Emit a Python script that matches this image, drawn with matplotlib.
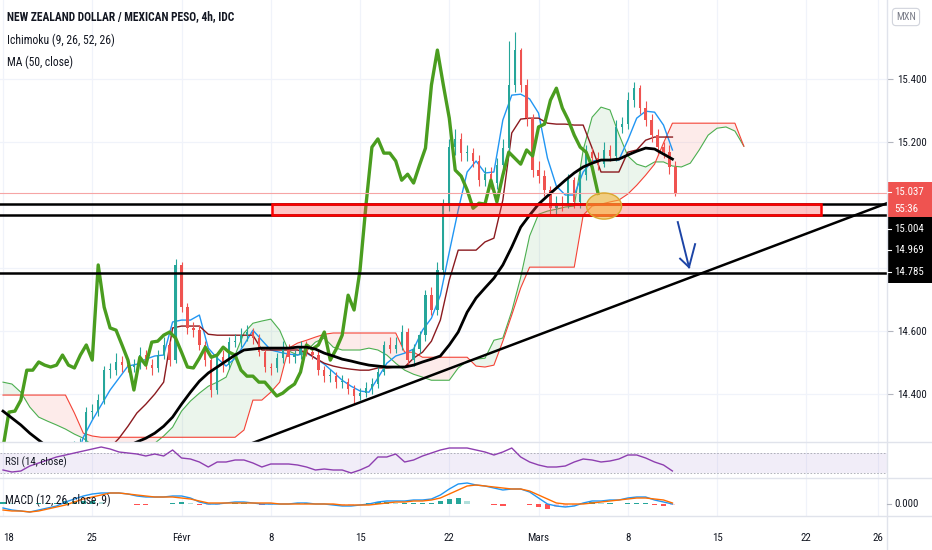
import numpy as np
import matplotlib
matplotlib.use("Agg")
import matplotlib.pyplot as plt
from matplotlib import font_manager
from matplotlib.patches import Rectangle, Ellipse


def first_font(names):
    for name in names:
        try:
            font_manager.findfont(font_manager.FontProperties(family=name),
                                  fallback_to_default=False)
            return name
        except ValueError:
            pass
    return "DejaVu Sans"


FONT = first_font(["Liberation Sans Narrow", "Roboto Condensed", "DejaVu Sans Condensed",
                   "Liberation Sans"])
plt.rcParams["font.family"] = [FONT, "DejaVu Sans"]

# x axis unit = trading days since Mon 18 Jan (weekends skipped)
# candles every 8h (3 per trading day)
closes = [
    14.10, 14.06, 14.08, 14.04, 14.07, 14.05, 14.09, 14.12, 14.10, 14.14,
    14.17, 14.20, 14.22, 14.23, 14.343, 14.346, 14.381, 14.476, 14.476, 14.502,
    14.492, 14.486, 14.492, 14.524, 14.492, 14.483, 14.524, 14.556, 14.508, 14.810,
    14.676, 14.610, 14.603, 14.556, 14.508, 14.413, 14.517, 14.492, 14.565, 14.568,
    14.587, 14.597, 14.578, 14.533, 14.486, 14.483, 14.514, 14.549, 14.517, 14.524,
    14.549, 14.533, 14.524, 14.476, 14.457, 14.457, 14.438, 14.438, 14.416, 14.394,
    14.403, 14.419, 14.432, 14.470, 14.556, 14.543, 14.556, 14.597, 14.508, 14.543,
    14.587, 14.714, 14.667, 14.794, 15.000, 15.184, 15.210, 15.165, 15.165, 15.140,
    15.079, 15.098, 15.070, 15.127, 15.181, 15.381, 15.492, 15.381, 15.276, 15.111,
    15.092, 15.048, 14.990, 15.006, 15.003, 15.079, 15.010, 15.095, 15.168, 15.149,
    15.130, 15.175, 15.156, 15.248, 15.257, 15.333, 15.371, 15.308, 15.270, 15.222,
    15.184, 15.168, 15.121, 15.037,
]
highs = [
    14.14, 14.12, 14.10, 14.09, 14.09, 14.10, 14.11, 14.14, 14.13, 14.16,
    14.19, 14.22, 14.25, 14.26, 14.36, 14.37, 14.40, 14.49, 14.50, 14.53,
    14.52, 14.51, 14.51, 14.55, 14.54, 14.51, 14.54, 14.58, 14.57, 14.83,
    14.82, 14.69, 14.63, 14.62, 14.57, 14.52, 14.53, 14.54, 14.58, 14.59,
    14.61, 14.62, 14.61, 14.59, 14.55, 14.50, 14.53, 14.57, 14.56, 14.54,
    14.57, 14.57, 14.55, 14.54, 14.49, 14.48, 14.47, 14.46, 14.45, 14.43,
    14.42, 14.44, 14.45, 14.49, 14.57, 14.58, 14.58, 14.62, 14.61, 14.56,
    14.60, 14.73, 14.74, 14.82, 15.02, 15.21, 15.24, 15.23, 15.19, 15.18,
    15.16, 15.12, 15.12, 15.15, 15.21, 15.52, 15.55, 15.50, 15.40, 15.29,
    15.14, 15.11, 15.06, 15.03, 15.03, 15.10, 15.09, 15.12, 15.19, 15.18,
    15.17, 15.20, 15.19, 15.27, 15.28, 15.36, 15.39, 15.38, 15.33, 15.29,
    15.24, 15.20, 15.19, 15.14,
]
lows = [
    14.08, 14.04, 14.04, 14.02, 14.03, 14.03, 14.04, 14.08, 14.08, 14.09,
    14.12, 14.15, 14.18, 14.20, 14.22, 14.32, 14.33, 14.37, 14.45, 14.46,
    14.47, 14.47, 14.47, 14.48, 14.48, 14.46, 14.47, 14.51, 14.49, 14.50,
    14.66, 14.59, 14.58, 14.54, 14.49, 14.39, 14.40, 14.47, 14.48, 14.55,
    14.55, 14.57, 14.56, 14.52, 14.47, 14.46, 14.47, 14.50, 14.50, 14.50,
    14.51, 14.52, 14.51, 14.46, 14.44, 14.44, 14.42, 14.42, 14.40, 14.37,
    14.38, 14.39, 14.40, 14.42, 14.46, 14.53, 14.53, 14.54, 14.49, 14.49,
    14.53, 14.57, 14.65, 14.65, 14.78, 14.98, 15.16, 15.14, 15.14, 15.12,
    15.06, 15.06, 15.05, 15.05, 15.11, 15.17, 15.36, 15.36, 15.25, 15.09,
    15.07, 15.03, 14.97, 14.97, 14.98, 14.99, 14.99, 14.99, 15.08, 15.13,
    15.11, 15.12, 15.14, 15.14, 15.23, 15.24, 15.31, 15.29, 15.25, 15.20,
    15.16, 15.15, 15.10, 15.03,
]
first_open = 14.12
chikou_shift = 13  # 26 bars of 4h

# indicator lines sampled every half trading day
tenkan = [
    14.12, 14.10, 14.08, 14.07, 14.07, 14.08, 14.10, 14.13, 14.17, 14.263,
    14.317, 14.365, 14.413, 14.451, 14.489, 14.495, 14.511, 14.521, 14.524, 14.629,
    14.635, 14.635, 14.651, 14.546, 14.514, 14.489, 14.514, 14.556, 14.603, 14.571,
    14.540, 14.533, 14.527, 14.524, 14.530, 14.514, 14.495, 14.470, 14.444, 14.425,
    14.410, 14.406, 14.451, 14.498, 14.521, 14.530, 14.543, 14.603, 14.641, 14.714,
    14.851, 14.984, 15.105, 15.140, 15.102, 15.105, 15.270, 15.349, 15.352, 15.337,
    15.292, 15.149, 15.060, 15.032, 15.032, 15.105, 15.140, 15.143, 15.143, 15.143,
    15.206, 15.276, 15.298, 15.295, 15.254, 15.175,
]
kijun = [
    14.10, 14.10, 14.10, 14.08, 14.08, 14.08, 14.08, 14.10, 14.12, 14.14,
    14.17, 14.20, 14.23, 14.260, 14.298, 14.340, 14.368, 14.400, 14.438, 14.610,
    14.616, 14.616, 14.616, 14.590, 14.587, 14.587, 14.587, 14.587, 14.587, 14.540,
    14.540, 14.540, 14.540, 14.540, 14.533, 14.514, 14.498, 14.489, 14.483, 14.479,
    14.476, 14.476, 14.483, 14.483, 14.486, 14.486, 14.514, 14.533, 14.568, 14.635,
    14.762, 14.857, 14.857, 14.857, 14.883, 14.895, 15.016, 15.229, 15.273, 15.276,
    15.276, 15.260, 15.257, 15.257, 15.254, 15.254, 15.181, 15.105, 15.105, 15.105,
    15.168, 15.175, 15.206, 15.216, 15.216, 15.216,
]
senkou_a = [
    14.438, 14.432, 14.406, 14.359, 14.327, 14.314, 14.302, 14.289, 14.273, 14.260,
    14.238, 14.225, 14.216, 14.219, 14.222, 14.229, 14.235, 14.244, 14.267, 14.295,
    14.346, 14.378, 14.403, 14.425, 14.438, 14.454, 14.524, 14.594, 14.625, 14.632,
    14.638, 14.603, 14.537, 14.524, 14.537, 14.565, 14.578, 14.549, 14.540, 14.540,
    14.540, 14.546, 14.540, 14.524, 14.498, 14.476, 14.463, 14.454, 14.444, 14.444,
    14.444, 14.483, 14.505, 14.511, 14.514, 14.571, 14.578, 14.663, 14.771, 14.902,
    14.971, 14.981, 14.987, 14.994, 14.997, 15.175, 15.279, 15.311, 15.302, 15.225,
    15.156, 15.130, 15.121, 15.137, 15.137, 15.124, 15.121, 15.133, 15.175, 15.222,
    15.244, 15.248, 15.235, 15.187,
]
senkou_b = [
    14.397, 14.397, 14.397, 14.397, 14.397, 14.397, 14.397, 14.397, 14.340, 14.276,
    14.267, 14.263, 14.263, 14.263, 14.263, 14.263, 14.263, 14.263, 14.263, 14.263,
    14.263, 14.263, 14.263, 14.263, 14.263, 14.263, 14.263, 14.286, 14.381, 14.381,
    14.406, 14.438, 14.546, 14.562, 14.571, 14.581, 14.590, 14.594, 14.594, 14.594,
    14.594, 14.594, 14.594, 14.594, 14.594, 14.533, 14.533, 14.517, 14.517, 14.517,
    14.517, 14.517, 14.517, 14.489, 14.486, 14.492, 14.568, 14.651, 14.737, 14.803,
    14.803, 14.803, 14.803, 14.803, 14.803, 14.968, 14.997, 15.003, 15.010, 15.016,
    15.035, 15.063, 15.095, 15.130, 15.197, 15.260, 15.260, 15.260, 15.260, 15.260,
    15.260, 15.260, 15.260, 15.187,
]
ma50 = [
    14.346, 14.324, 14.302, 14.276, 14.254, 14.232, 14.216, 14.197, 14.184, 14.181,
    14.184, 14.190, 14.203, 14.219, 14.235, 14.248, 14.260, 14.276, 14.298, 14.327,
    14.368, 14.406, 14.441, 14.467, 14.486, 14.505, 14.524, 14.540, 14.543, 14.546,
    14.546, 14.546, 14.546, 14.549, 14.549, 14.543, 14.530, 14.521, 14.511, 14.505,
    14.498, 14.492, 14.489, 14.486, 14.486, 14.486, 14.492, 14.502, 14.511, 14.521,
    14.556, 14.597, 14.660, 14.705, 14.737, 14.768, 14.810, 14.867, 14.930, 14.968,
    15.003, 15.029, 15.054, 15.079, 15.102, 15.121, 15.133, 15.143, 15.143, 15.146,
    15.159, 15.171, 15.181, 15.178, 15.162, 15.146,
]
rsi = [
    36, 32, 34, 44, 50, 56, 62, 66, 70, 74,
    78, 82, 78, 72, 70, 68, 64, 68, 64, 76,
    60, 58, 52, 42, 52, 52, 56, 56, 50, 42,
    48, 48, 48, 46, 42, 36, 38, 36, 36, 30,
    36, 44, 62, 62, 68, 52, 56, 64, 70, 76,
    80, 80, 80, 76, 72, 66, 72, 80, 62, 52,
    46, 42, 42, 44, 52, 58, 56, 52, 54, 58,
    66, 66, 60, 52, 46, 34,
]
macd = [
    -0.008, -0.012, -0.014, -0.016, -0.012, -0.008, -0.004, 0.004, 0.010, 0.016,
    0.020, 0.022, 0.022, 0.022, 0.020, 0.016, 0.014, 0.014, 0.014, 0.016,
    0.016, 0.012, 0.004, 0.000, 0.000, 0.002, 0.004, 0.004, 0.002, 0.000,
    0.000, 0.000, 0.000, 0.002, 0.002, 0.000, 0.000, -0.002, -0.004, -0.004,
    -0.002, 0.000, 0.004, 0.006, 0.006, 0.006, 0.008, 0.008, 0.010, 0.018,
    0.030, 0.040, 0.042, 0.038, 0.036, 0.032, 0.028, 0.030, 0.030, 0.024,
    0.012, 0.000, -0.004, -0.006, -0.004, 0.002, 0.006, 0.006, 0.008, 0.008,
    0.012, 0.014, 0.014, 0.008, 0.004, 0.000,
]
signal = [
    -0.012, -0.014, -0.014, -0.016, -0.014, -0.010, -0.006, -0.002, 0.004, 0.010,
    0.014, 0.018, 0.022, 0.022, 0.020, 0.018, 0.016, 0.014, 0.014, 0.014,
    0.012, 0.010, 0.006, 0.002, 0.002, 0.002, 0.002, 0.002, 0.002, 0.002,
    0.002, 0.000, 0.000, 0.000, 0.000, 0.000, 0.000, 0.000, -0.002, -0.002,
    -0.002, -0.002, 0.000, 0.002, 0.004, 0.004, 0.006, 0.006, 0.008, 0.012,
    0.020, 0.028, 0.036, 0.038, 0.036, 0.034, 0.032, 0.030, 0.030, 0.026,
    0.018, 0.010, 0.002, 0.000, 0.000, 0.000, 0.002, 0.004, 0.006, 0.008,
    0.010, 0.012, 0.012, 0.010, 0.008, 0.002,
]

tick_days = [0, 5, 10, 15, 20, 25, 30, 35, 40, 45, 49]
tick_labels = ["18", "25", "Févr", "8", "15", "22", "Mars", "8", "15", "22", "26"]
price_ticks = [14.4, 14.6, 15.2, 15.4]

# drawings
levels = [15.004, 14.969, 14.785]
zone_days = [15.07, 45.83]
zone_prices = [14.969, 15.004]
trend_days = [13.0, 49.52]
trend_prices = [14.224, 15.006]
circle_day, circle_price = 33.67, 14.997
arrow_days = [37.80, 38.43]
arrow_prices = [14.946, 14.803]
barb_days = [37.93, 38.77]
barb_prices = [14.830, 14.876]
countdown = "55:36"

title = "NEW ZEALAND DOLLAR / MEXICAN PESO, 4h, IDC"
DARK = "#131722"
GRID = "#f0f3fa"
BORDER = "#e0e3eb"

W, H = 932, 550
fig = plt.figure(figsize=(W / 100, H / 100), dpi=100)
ax = fig.add_axes([0, 1 - 442 / H, 887 / W, 442 / H])
ax_rsi = fig.add_axes([0, 1 - 478 / H, 887 / W, 36 / H], sharex=ax)
ax_macd = fig.add_axes([0, 1 - 516 / H, 887 / W, 38 / H], sharex=ax)
renderer = fig.canvas.get_renderer()


def fit(texts, width):
    # shrink text so that the widest one is no wider than the reference
    widest = max(t.get_window_extent(renderer).width for t in texts)
    if widest > width:
        for t in texts:
            t.set_fontsize(t.get_fontsize() * width / widest)


for a in (ax, ax_rsi, ax_macd):
    for s in a.spines.values():
        s.set_visible(False)
    for d in tick_days:
        a.axvline(d, color=GRID, lw=0.9, zorder=0)

# ---- main panel ----
for p in [14.4, 14.6, 14.8, 15.0, 15.2, 15.4]:
    ax.axhline(p, color=GRID, lw=0.9, zorder=0)

xg = np.arange(len(senkou_a)) / 2
sa = np.array(senkou_a)
sb = np.array(senkou_b)
ax.fill_between(xg, sa, sb, where=sa >= sb, interpolate=True, color="#43a047", alpha=0.1, lw=0)
ax.fill_between(xg, sa, sb, where=sa < sb, interpolate=True, color="#f44336", alpha=0.1, lw=0)
ax.plot(xg, sa, color="#4caf50", lw=0.8, zorder=2)
ax.plot(xg, sb, color="#f44336", lw=0.8, zorder=2)

xl = np.arange(len(tenkan)) / 2
ax.plot(xl, tenkan, color="#2196f3", lw=1.0, zorder=3)
ax.plot(xl, kijun, color="#8b1a1f", lw=1.0, zorder=3)

c = np.array(closes)
o = np.concatenate([[first_open], c[:-1]])
xc = np.arange(len(c)) / 3
cols = np.where(c >= o, "#26a69a", "#ef5350")
ax.vlines(xc, lows, highs, colors=cols, lw=0.8, zorder=4)
body = np.maximum(np.abs(c - o), 0.003)
ax.bar(xc, body, bottom=np.minimum(c, o), width=0.13, color=cols, zorder=4, lw=0)

xch = (np.arange(len(c) - chikou_shift)) / 3
ax.plot(xch, c[chikou_shift:], color="#4a9d1f", lw=2.4, zorder=5)
ax.plot(xl, ma50, color="black", lw=2.0, zorder=6)

ax.axhline(closes[-1], color="#f6a5a5", lw=0.8, zorder=6)
for lvl in levels:
    ax.axhline(lvl, color="black", lw=1.8, zorder=7)
ax.add_patch(Rectangle((zone_days[0], zone_prices[0]), zone_days[1] - zone_days[0],
                       zone_prices[1] - zone_prices[0], fc=(1, 0.25, 0.25, 0.3),
                       ec="#ff0000", lw=1.8, zorder=8))
ax.plot(trend_days, trend_prices, color="black", lw=1.8, zorder=8)
ax.add_patch(Ellipse((circle_day, circle_price), 1.96, 0.083, fc=(0.96, 0.70, 0.22, 0.6),
                     ec="#d9a830", lw=1.0, zorder=9))
ax.plot(arrow_days, arrow_prices, color="#1c44a6", lw=1.4, zorder=9)
for bd, bp in zip(barb_days, barb_prices):
    ax.plot([arrow_days[1], bd], [arrow_prices[1], bp], color="#1c44a6", lw=1.4, zorder=9)

ax.set_xlim(-0.168, 49.52)
ax.set_ylim(14.248, 15.651)
ax.yaxis.tick_right()
ax.set_yticks(price_ticks)
ax.set_yticklabels([f"{p:.3f}" for p in price_ticks])
ax.tick_params(axis="y", length=4, color="#b2b5be", labelcolor=DARK, labelsize=9, pad=3)
ax.tick_params(axis="x", bottom=False, labelbottom=False)

# ---- RSI ----
xr = np.arange(len(rsi)) / 2
ax_rsi.axhspan(30, 70, color="#7e57c2", alpha=0.1, lw=0)
for lv in (30, 70):
    ax_rsi.axhline(lv, color="#a3a6af", lw=0.6, ls=(0, (2, 2)))
ax_rsi.plot(xr, rsi, color="#8e3fb0", lw=1.0)
ax_rsi.set_ylim(20, 92)
ax_rsi.set_yticks([])
ax_rsi.tick_params(axis="x", bottom=False, labelbottom=False)
rsi_label = ax_rsi.text(0.006, 0.45, "RSI (14, close)", transform=ax_rsi.transAxes,
                        fontsize=9.5, color=DARK, va="center")

# ---- MACD ----
m = np.array(macd)
s = np.array(signal)
hist = m - s
prev = np.concatenate([[0.0], hist[:-1]])
hcols = np.where(hist >= 0, np.where(hist >= prev, "#26a69a", "#b2dfdb"),
                 np.where(hist < prev, "#ff5252", "#ffcdd2"))
ax_macd.bar(xr, hist, width=0.3, color=hcols, lw=0)
ax_macd.plot(xr, m, color="#2196f3", lw=1.0)
ax_macd.plot(xr, s, color="#ff6d00", lw=1.0)
ax_macd.set_ylim(-0.024, 0.052)
ax_macd.set_yticks([])
macd_label = ax_macd.text(0.006, 0.42, "MACD (12, 26, close, 9)", transform=ax_macd.transAxes,
                          fontsize=9.5, color=DARK, va="center")
ax_macd.set_xticks(tick_days)
ax_macd.set_xticklabels(tick_labels)
ax_macd.tick_params(axis="x", length=0, pad=12, labelsize=9, labelcolor=DARK)
# first date sits at the very edge: anchor it on its left side so it stays whole
ax_macd.get_xticklabels()[0].set_horizontalalignment("left")

# ---- overlay: headers, borders, price labels ----
ov = fig.add_axes([0, 0, 1, 1])
ov.set_xlim(0, W)
ov.set_ylim(H, 0)
ov.axis("off")
ov.patch.set_visible(False)

t_title = ov.text(7, 17, title, fontsize=10, fontweight="bold", color=DARK, va="center")
t_ichi = ov.text(7, 40, "Ichimoku (9, 26, 52, 26)", fontsize=10, color=DARK, va="center")
t_ma = ov.text(7, 62, "MA (50, close)", fontsize=10, color=DARK, va="center")

ov.plot([887, 887], [0, H], color=BORDER, lw=1)
for yy in (442, 478, 516):
    ov.plot([0, W], [yy, yy], color=BORDER, lw=1)

t_mxn = ov.text(906, 17, "MXN", fontsize=7.5, color="#787b86", ha="center", va="center",
                bbox=dict(boxstyle="round,pad=0.35", fc="white", ec="#d1d4dc", lw=0.8))

ov.add_patch(Rectangle((887, 182), 45, 35, color="#ef5350", lw=0))
box_texts = [ov.text(894, 192, f"{closes[-1]:.3f}", fontsize=9, color="white", va="center"),
             ov.text(894, 209, countdown, fontsize=9, color="white", va="center")]
ov.plot([887, 891], [192, 192], color="white", lw=0.8)
ov.add_patch(Rectangle((887, 217), 45, 66, color="black", lw=0))
for yy, lvl in zip((229, 250, 272), levels):
    box_texts.append(ov.text(894, yy, f"{lvl:.3f}", fontsize=9, color="white", va="center"))
    ov.plot([887, 891], [yy, yy], color="white", lw=0.8)
box_texts.append(ov.text(894, 504, "0.000", fontsize=9, color=DARK, va="center"))
ov.plot([887, 891], [504, 504], color="#b2b5be", lw=0.8)

# match the narrow lettering of the screenshot
fit([t_title], 228)
fit([t_ichi], 108)
fit([t_ma], 66)
fit([rsi_label], 62)
fit([macd_label], 106)
fit(box_texts + list(ax.get_yticklabels()), 30)
fit(list(ax_macd.get_xticklabels()), 22)

fig.savefig("out.png", dpi=100, facecolor="white")
